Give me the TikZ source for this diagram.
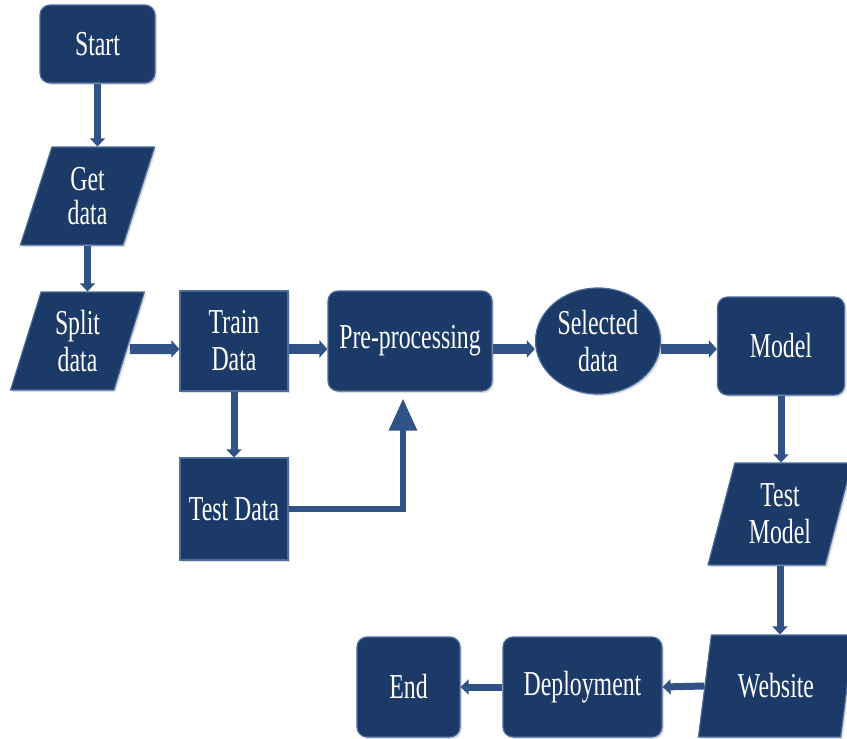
\documentclass[tikz,border=0pt]{standalone}
\usepackage{fontspec}
\setmainfont[FakeStretch=0.68]{Liberation Serif}
\usetikzlibrary{shapes.geometric,arrows.meta,shadows}
\definecolor{boxfill}{RGB}{27,58,103}
\definecolor{boxedge}{RGB}{76,108,156}
\definecolor{arrowcol}{RGB}{48,82,132}
\tikzset{
  base/.style={fill=boxfill, draw=boxedge, line width=1.2pt, text=white, align=center,
    inner sep=0pt, font=\fontsize{35}{37}\selectfont,
    drop shadow={opacity=0.25, shadow xshift=2pt, shadow yshift=-2pt}},
  rbox/.style={base, rectangle, rounded corners=10pt},
  sbox/.style={base, rectangle},
  pbox/.style={base, trapezium, trapezium left angle=73, trapezium right angle=107, trapezium stretches=true},
  ebox/.style={base, ellipse},
  arr/.style={draw=arrowcol, line width=7pt, -{Triangle[width=15pt,length=8pt]}},
  harr/.style={draw=arrowcol, line width=10pt, -{Triangle[width=17pt,length=8pt]}},
  bigarr/.style={draw=arrowcol, line width=6pt, -{Triangle[width=27pt,length=32pt]}}
}
\begin{document}
\begin{tikzpicture}[x=1pt,y=-1pt]
\useasboundingbox (0,0) rectangle (847,739);
\node[rbox, minimum width=115pt, minimum height=78pt] (start) at (97.5,44) {Start};
\node[pbox, minimum width=135pt, minimum height=98pt, font=\fontsize{35}{34}\selectfont] (get) at (87.5,196) {Get\\data};
\node[pbox, minimum width=135pt, minimum height=98pt] (split) at (77.5,341) {Split\\data};
\node[sbox, minimum width=108pt, minimum height=100pt] (train) at (234,341) {Train\\Data};
\node[rbox, minimum width=164pt, minimum height=100pt] (pre) at (410,341) {Pre-processing};
\node[ebox, minimum width=125pt, minimum height=106pt] (sel) at (598,341) {Selected\\data};
\node[rbox, minimum width=127pt, minimum height=98pt] (model) at (781,346) {Model};
\node[sbox, minimum width=108pt, minimum height=102pt] (testdata) at (234,509) {Test Data};
\node[pbox, minimum width=144pt, minimum height=102pt] (testmodel) at (780,514) {Test\\Model};
\node[pbox, minimum width=156pt, minimum height=102pt] (website) at (776,686) {Website};
\node[rbox, minimum width=159pt, minimum height=100pt] (deploy) at (582.5,687) {Deployment};
\node[rbox, minimum width=103pt, minimum height=100pt] (end) at (408.5,687) {End};

\draw[arr] (start.south) -- (start.south |- get.north);
\draw[arr] (get.south) -- (get.south |- split.north);
\draw[harr] ([yshift=-8pt]split.east) -- ([yshift=-8pt]train.west);
\draw[harr] ([yshift=-8pt]train.east) -- ([yshift=-8pt]pre.west);
\draw[harr] ([yshift=-8pt]pre.east) -- ([yshift=-8pt]sel.west);
\draw[harr] ([yshift=-8pt]sel.east) -- ([yshift=-8pt]sel.east -| model.west);
\draw[arr] (train.south) -- (testdata.north);
\draw[bigarr] (testdata.east) -| ([xshift=-7pt,yshift=-7pt]pre.south);
\draw[arr] (model.south) -- (model.south |- testmodel.north);
\draw[arr] (testmodel.south) -- (testmodel.south |- website.north);
\draw[arr] (website.west) -- (deploy.east);
\draw[arr] (deploy.west) -- (end.east);
\end{tikzpicture}
\end{document}
